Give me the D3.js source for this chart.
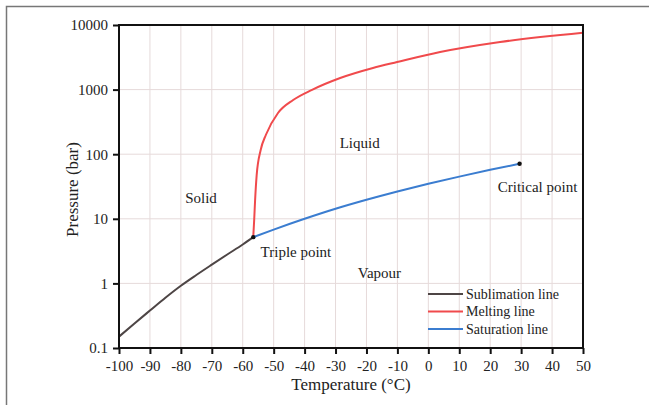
<!DOCTYPE html>
<html>
<head>
<meta charset="utf-8">
<script src="https://cdn.jsdelivr.net/npm/d3@7"></script>
<style>
  body { margin: 0; background: #fff; }
  svg { display: block; }
  text { font-family: "Liberation Serif", "Times New Roman", serif; fill: #222; }
</style>
</head>
<body>
<svg id="chart" width="649" height="405"></svg>
<script>
const width = 649;
const height = 405;
const margin = { top: 25, right: 66, bottom: 57, left: 119 };
const w = width - margin.left - margin.right;
const h = height - margin.top - margin.bottom;

// CO2 phase boundaries: [temperature °C, pressure bar]
const sublimation = [[-100, 0.15], [-95, 0.24], [-90, 0.38], [-85, 0.6], [-80, 0.92],
    [-75, 1.35], [-70, 1.95], [-65, 2.8], [-60, 4.0], [-56.6, 5.2]];
const melting = [[-56.6, 5.2], [-56.3, 9.6], [-56.0, 19.5], [-55.5, 47], [-54.2, 116],
    [-52.5, 200], [-48.6, 434], [-43.7, 690], [-37.6, 990],
    [-28.5, 1510], [-17.9, 2160], [-10.1, 2670], [3.8, 3820], [23.2, 5460], [50, 7600]];
const saturation = [[-56.6, 5.2], [-50, 6.8], [-40, 10.0], [-30, 14.3], [-20, 19.7],
    [-10, 26.5], [0, 34.9], [10, 45.0], [20, 57.3], [29.5, 71]];
const points = [[-56.6, 5.2], [29.5, 71]];

const xTicks = d3.range(-100, 51, 10);
const yTicks = [0.1, 1, 10, 100, 1000, 10000];

const series = [
    { name: "Sublimation line", data: sublimation, color: "#4d4545" },
    { name: "Melting line", data: melting, color: "#f04a4c" },
    { name: "Saturation line", data: saturation, color: "#3b7dd0" }
];

const labels = [
    { text: "Solid", t: -73.5, p: 21 },
    { text: "Liquid", t: -22.2, p: 150 },
    { text: "Vapour", t: -15.8, p: 1.45 },
    { text: "Triple point", t: -42.8, p: 3.05 },
    { text: "Critical point", t: 35.3, p: 31 }
];

const svg = d3.select("#chart");

// outer frame
svg.append("path")
    .attr("d", `M6.5,405 V6.5 H649`)
    .attr("fill", "none")
    .attr("stroke", "#777")
    .attr("stroke-width", 1.5);

const g = svg.append("g").attr("transform", `translate(${margin.left},${margin.top})`);

const x = d3.scaleLinear().domain([-100, 50]).range([0, w]);
const y = d3.scaleLog().domain([0.1, 10000]).range([h, 0]);

// grid
g.append("g").selectAll("line").data(xTicks.slice(1, -1)).enter().append("line")
    .attr("x1", d => x(d)).attr("x2", d => x(d))
    .attr("y1", 0).attr("y2", h)
    .attr("stroke", "#e6dada").attr("stroke-width", 1);
g.append("g").selectAll("line").data(yTicks.slice(1, -1)).enter().append("line")
    .attr("x1", 0).attr("x2", w)
    .attr("y1", d => y(d)).attr("y2", d => y(d))
    .attr("stroke", "#e6dada").attr("stroke-width", 1);

// lines
const line = d3.line().x(d => x(d[0])).y(d => y(d[1])).curve(d3.curveMonotoneX);
series.forEach(s => {
    g.append("path")
        .datum(s.data)
        .attr("d", line)
        .attr("fill", "none")
        .attr("stroke", s.color)
        .attr("stroke-width", 2);
});

g.selectAll("circle").data(points).enter().append("circle")
    .attr("cx", d => x(d[0])).attr("cy", d => y(d[1]))
    .attr("r", 2.2).attr("fill", "#111");

// region labels
g.selectAll("text.lbl").data(labels).enter().append("text")
    .attr("class", "lbl")
    .attr("x", d => x(d.t)).attr("y", d => y(d.p))
    .attr("text-anchor", "middle")
    .attr("dy", "0.35em")
    .style("font-size", "15px")
    .text(d => d.text);

// axes
const xAxis = g.append("g").attr("transform", `translate(0,${h})`)
    .call(d3.axisBottom(x).tickValues(xTicks).tickFormat(d => String(d)).tickSize(6).tickSizeOuter(0));
const yAxis = g.append("g")
    .call(d3.axisLeft(y).tickValues(yTicks).tickFormat(d => String(d)).tickSize(6).tickSizeOuter(0));

[xAxis, yAxis].forEach(a => {
    a.select(".domain").remove();
    a.selectAll(".tick line").attr("stroke", "#111").attr("stroke-width", 2);
    a.selectAll(".tick text").style("font-size", "15px").attr("fill", "#222")
        .style("font-family", "'Liberation Serif', serif");
});
xAxis.selectAll(".tick text").attr("dy", "0.9em");
yAxis.selectAll(".tick text").attr("x", -11);

// box
g.append("rect")
    .attr("width", w).attr("height", h)
    .attr("fill", "none").attr("stroke", "#111").attr("stroke-width", 2);

// axis titles
g.append("text")
    .attr("x", w / 2).attr("y", h + 42)
    .attr("text-anchor", "middle")
    .style("font-size", "17px")
    .text("Temperature (°C)");
g.append("text")
    .attr("transform", `translate(${-41},${h / 2 + 3}) rotate(-90)`)
    .attr("text-anchor", "middle")
    .style("font-size", "17px")
    .text("Pressure (bar)");

// legend
const legend = g.append("g").attr("transform", `translate(${w - 155},${h - 54})`);
series.forEach((s, i) => {
    const row = legend.append("g").attr("transform", `translate(0,${i * 17.5})`);
    row.append("line").attr("x1", 0).attr("x2", 35)
        .attr("stroke", s.color).attr("stroke-width", 2);
    row.append("text").attr("x", 38).attr("dy", "0.35em")
        .style("font-size", "14px")
        .text(s.name);
});
</script>
</body>
</html>
